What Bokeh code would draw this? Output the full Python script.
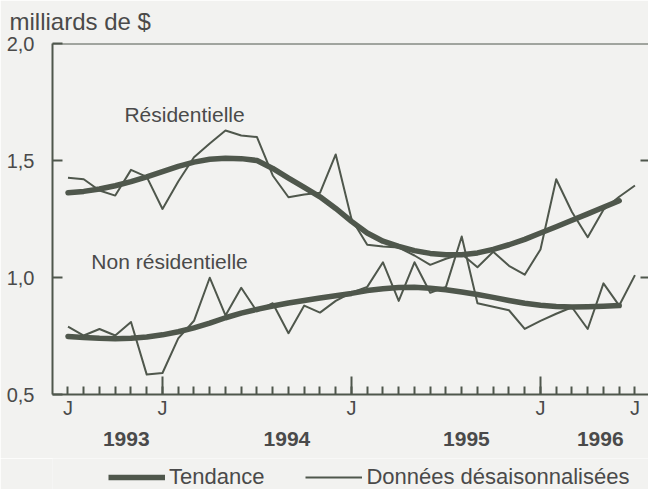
import numpy as np
from bokeh.plotting import figure
from bokeh.layouts import column
from bokeh.models import (FixedTicker, LinearAxis, Legend, LegendItem, Span, Range1d)
from bokeh.embed import file_html
from bokeh.resources import INLINE
from bokeh.core.properties import value

# ---- data (month index 0 = first "J" on the axis) ----
months = list(range(37))
res_sa = [1.426, 1.42, 1.372, 1.35, 1.46, 1.43, 1.293, 1.41, 1.514, 1.573,
          1.628, 1.607, 1.60, 1.436, 1.343, 1.355, 1.362, 1.526, 1.25, 1.14,
          1.132, 1.128, 1.094, 1.054, 1.08, 1.10, 1.044, 1.11, 1.05, 1.012,
          1.12, 1.42, 1.28, 1.172, 1.29, 1.345, 1.393]
res_trend = [1.362, 1.368, 1.378, 1.392, 1.41, 1.43, 1.452, 1.475, 1.493, 1.505,
             1.51, 1.508, 1.50, 1.466, 1.425, 1.385, 1.345, 1.295, 1.24, 1.19,
             1.155, 1.133, 1.115, 1.103, 1.097, 1.097, 1.105, 1.12, 1.14, 1.163,
             1.19, 1.217, 1.245, 1.272, 1.30, 1.328]
nonres_sa = [0.79, 0.752, 0.78, 0.752, 0.81, 0.585, 0.592, 0.74, 0.815, 0.999,
             0.838, 0.956, 0.855, 0.89, 0.762, 0.88, 0.85, 0.90, 0.935, 0.96,
             1.065, 0.90, 1.065, 0.935, 0.96, 1.175, 0.89, 0.875, 0.86, 0.78,
             0.815, 0.845, 0.873, 0.78, 0.975, 0.88, 1.01]
nonres_trend = [0.748, 0.744, 0.740, 0.738, 0.740, 0.746, 0.755, 0.768, 0.785, 0.805,
                0.828, 0.848, 0.864, 0.878, 0.891, 0.902, 0.912, 0.922, 0.932, 0.944,
                0.952, 0.957, 0.958, 0.954, 0.948, 0.938, 0.927, 0.915, 0.902, 0.89,
                0.881, 0.876, 0.874, 0.875, 0.877, 0.88]
trend_months = months[:len(res_trend)]

y_ticks = [0.5, 1.0, 1.5, 2.0]
y_tick_labels = ["0,5", "1,0", "1,5", "2,0"]
inner_y_ticks = [1.0, 1.5]
january_ticks = [6, 18, 30]
month_label_pos = [0, 6, 18, 30, 36]
month_labels = ["J", "J", "J", "J", "J"]
year_pos = [3.7, 13.9, 25.3, 33.8]
year_labels = ["1993", "1994", "1995", "1996"]
legend_labels = ["Tendance", "Données désaisonnalisées"]

BG = "#f2f2f0"
LINE = "#4f574c"
TEXT = "#4a4a4a"
FONT = "Liberation Sans"

p = figure(width=648, height=458,
           x_range=Range1d(-0.984, 36.86), y_range=Range1d(0.5, 2.0),
           output_backend="svg", toolbar_location=None,
           x_axis_location=None, y_axis_location=None,
           min_border_left=52, min_border_right=0, min_border_top=43, min_border_bottom=64,
           background_fill_color=BG, border_fill_color=BG, outline_line_color=None)
p.xgrid.visible = False
p.ygrid.visible = False

p.title.text = "milliards de $"
p.title.align = "left"
p.title.vertical_align = "top"
p.title.offset = -43
p.title.standoff = 14
p.title.text_font = FONT
p.title.text_font_size = "24px"
p.title.text_font_style = "normal"
p.title.text_color = TEXT

# left axis
yax = LinearAxis(ticker=FixedTicker(ticks=y_ticks),
                 major_label_overrides=dict(zip(y_ticks, y_tick_labels)),
                 major_tick_in=10, major_tick_out=0, minor_tick_line_color=None,
                 major_label_standoff=18, axis_line_width=2, axis_line_color=LINE,
                 major_tick_line_color=LINE, major_tick_line_width=2,
                 major_label_text_font=FONT, major_label_text_font_size="20px",
                 major_label_text_color=TEXT)
p.add_layout(yax, "left")

# right inner ticks (no labels)
rax = LinearAxis(ticker=FixedTicker(ticks=inner_y_ticks),
                 major_tick_in=8, major_tick_out=0, minor_tick_line_color=None,
                 axis_line_color=None, major_tick_line_color=LINE, major_tick_line_width=2,
                 major_label_text_color=None, major_label_text_font_size="1px",
                 major_label_standoff=0)
p.add_layout(rax, "right")

# bottom tick marks (no labels)
xa = LinearAxis(ticker=FixedTicker(ticks=january_ticks, minor_ticks=months),
                major_tick_in=18, major_tick_out=0, minor_tick_in=8, minor_tick_out=0,
                major_tick_line_color=LINE, minor_tick_line_color=LINE,
                major_tick_line_width=2, minor_tick_line_width=2,
                axis_line_width=2, axis_line_color=LINE,
                major_label_text_color=None, major_label_text_font_size="1px",
                major_label_standoff=0)
p.add_layout(xa, "below")

# month letters
xb = LinearAxis(ticker=FixedTicker(ticks=month_label_pos),
                major_label_overrides=dict(zip(month_label_pos, month_labels)),
                major_tick_line_color=None, minor_tick_line_color=None, axis_line_color=None,
                major_label_standoff=-4, major_label_text_font=FONT,
                major_label_text_font_size="20px", major_label_text_color=TEXT)
p.add_layout(xb, "below")

# years
xc = LinearAxis(ticker=FixedTicker(ticks=year_pos),
                major_label_overrides=dict(zip(year_pos, year_labels)),
                major_tick_line_color=None, minor_tick_line_color=None, axis_line_color=None,
                major_label_standoff=4, major_label_text_font=FONT,
                major_label_text_font_style="bold",
                major_label_text_font_size="21px", major_label_text_color=TEXT)
p.add_layout(xc, "below")

# top frame line
p.add_layout(Span(location=y_ticks[-1], dimension="width", line_color=LINE, line_width=2))

# series
p.line(months, res_sa, line_width=2, line_color=LINE, line_join="round")
p.line(months, nonres_sa, line_width=2, line_color=LINE, line_join="round")
p.line(trend_months, res_trend, line_width=5.5, line_color=LINE,
       line_join="round", line_cap="round")
p.line(trend_months, nonres_trend, line_width=5.5, line_color=LINE,
       line_join="round", line_cap="round")

p.text(x=[7.40], y=[1.697], text=["Résidentielle"], text_align="center",
       text_baseline="middle", text_font=value(FONT), text_font_size="21px",
       text_color=TEXT)
p.text(x=[6.45], y=[1.070], text=["Non résidentielle"], text_align="center",
       text_baseline="middle", text_font=value(FONT), text_font_size="21px",
       text_color=TEXT)

# legend strip (its own small figure, frame aligned with the chart's frame)
lg = figure(width=648, height=31, x_range=Range1d(0, 1), y_range=Range1d(0, 1),
            output_backend="svg", toolbar_location=None,
            x_axis_location=None, y_axis_location=None, min_border=0,
            background_fill_color=BG, border_fill_color=BG, outline_line_color=None)
lg.xgrid.visible = False
lg.ygrid.visible = False
nan = np.array([np.nan])
k_trend = lg.line(x=nan, y=nan, line_width=5.5, line_color=LINE, line_cap="butt")
k_sa = lg.line(x=nan, y=nan, line_width=2, line_color=LINE)
legend = Legend(items=[LegendItem(label=legend_labels[0], renderers=[k_trend]),
                       LegendItem(label=legend_labels[1], renderers=[k_sa])],
                orientation="horizontal", location=(56, -1),
                glyph_width=57, glyph_height=20, label_standoff=4, spacing=41,
                padding=0, margin=0, border_line_color=None, background_fill_alpha=0,
                label_text_font=FONT, label_text_font_size="22px",
                label_text_color=TEXT)
lg.add_layout(legend)

layout = column(p, lg, spacing=0)
open("out.html", "w").write(file_html(layout, INLINE))
